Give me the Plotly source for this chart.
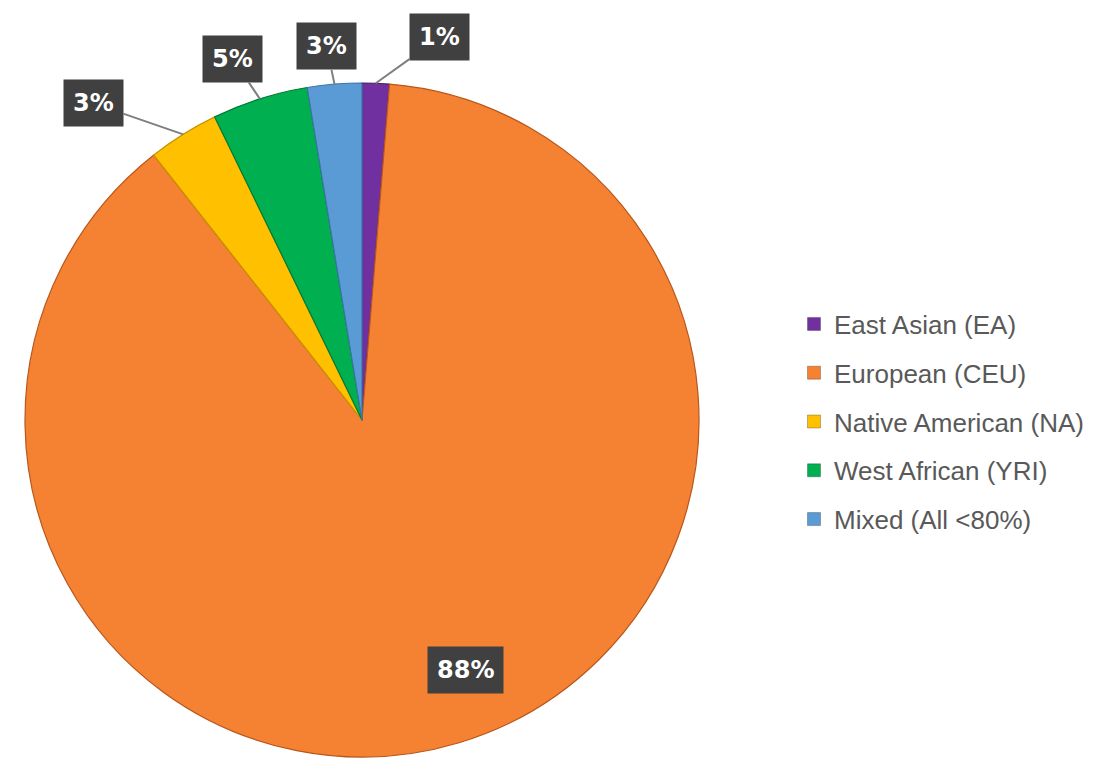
import math
import plotly.graph_objects as go

# ---- data ----
labels = ["East Asian (EA)", "European (CEU)", "Native American (NA)",
          "West African (YRI)", "Mixed (All <80%)"]
values = [1.3, 88.1, 3.4, 4.6, 2.6]
colors = ["#7030A0", "#F58232", "#FFC000", "#00B050", "#5B9BD5"]
edge_colors = ["#4B1F6E", "#B9561A", "#C89400", "#007A37", "#3C74A8"]

# ---- layout constants (pixels) ----
W, H = 1114, 765
CX, CY, R = 362, 420, 337
# label offsets (dx, dy) from the anchor point, and anchor radius fraction
label_offsets = [(64, -46), (26, 16), (-90, -31), (-27, -40), (-8, -38)]
anchor_frac = [1.0, 0.8, 1.0, 1.0, 1.0]
show_arrow = [True, False, True, True, True]

LABEL_FONT = dict(family="DejaVu Sans", size=24, color="white", weight="bold")

fig = go.Figure()
fig.add_trace(go.Pie(
    labels=labels, values=values, sort=False, direction="clockwise", rotation=0,
    marker=dict(colors=colors, line=dict(color=edge_colors, width=1.2)),
    textinfo="none", hoverinfo="label+percent", showlegend=False,
    domain=dict(x=[(CX - R) / W, (CX + R) / W],
                y=[1 - (CY + R) / H, 1 - (CY - R) / H]),
))

# legend entries
for lab, col in zip(labels, colors):
    fig.add_trace(go.Scatter(
        x=[None], y=[None], mode="markers", name=lab, legendgroup=lab,
        marker=dict(symbol="square", size=13, color=col,
                    line=dict(color="rgba(0,0,0,0.25)", width=1)),
    ))

total = sum(values)
cum = 0.0
annotations = []
for i, v in enumerate(values):
    mid = (cum + v / 2) / total * 2 * math.pi
    cum += v
    r = R * anchor_frac[i]
    px = CX + r * math.sin(mid)
    py = CY - r * math.cos(mid)
    pct = f"{round(v / total * 100):.0f}%"
    dx, dy = label_offsets[i]
    if show_arrow[i]:
        annotations.append(dict(
            x=px / W, y=1 - py / H, xref="paper", yref="paper",
            text=pct, showarrow=True, ax=dx, ay=dy, arrowhead=0,
            arrowwidth=2, arrowcolor="#7F7F7F", standoff=0,
            bgcolor="#404040", borderpad=9, font=LABEL_FONT,
        ))
    else:
        annotations.append(dict(
            x=(px + dx) / W, y=1 - (py + dy) / H, xref="paper", yref="paper",
            text=pct, showarrow=False, bgcolor="#404040", borderpad=9,
            font=LABEL_FONT,
        ))

fig.update_layout(
    width=W, height=H, margin=dict(l=0, r=0, t=0, b=0),
    paper_bgcolor="white", plot_bgcolor="white",
    xaxis=dict(visible=False), yaxis=dict(visible=False),
    annotations=annotations,
    legend=dict(x=794 / W, y=1 - 422 / H, xanchor="left", yanchor="middle",
                font=dict(family="Arial, Liberation Sans", size=26, color="#595959"),
                tracegroupgap=12, itemwidth=30, bgcolor="rgba(0,0,0,0)"),
    showlegend=True,
)
fig.write_html("out.html")
